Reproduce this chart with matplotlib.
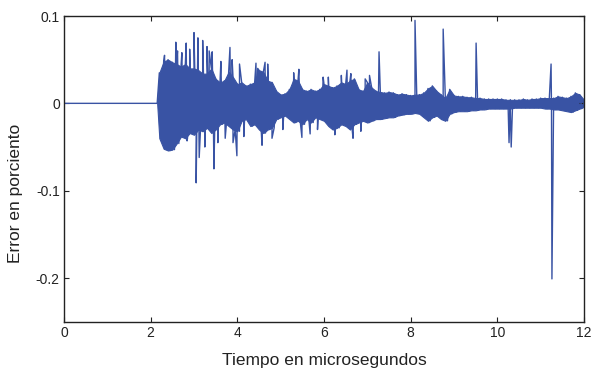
import numpy as np
import matplotlib
matplotlib.use('Agg')
import matplotlib.pyplot as plt

plt.rcParams['font.family'] = ['Liberation Sans', 'DejaVu Sans']
plt.rcParams['axes.unicode_minus'] = False

# ---------------- data ----------------
x_ticks = [0, 2, 4, 6, 8, 10, 12]
y_ticks = [-0.2, -0.1, 0, 0.1]
y_tick_labels = ['-0.2', '-0.1', '0', '0.1']
x_label = 'Tiempo en microsegundos'
y_label = 'Error en porciento'

# flat part before the signal begins
flat_t = [0.0, 2.15]
flat_v = [0.0, 0.0]

# envelope of the dense oscillation, sampled every 0.1 us from 2.2 to 11.9
env_t = np.round(np.arange(2.2, 11.95, 0.1), 2)
env_upper = [
    0.035, 0.048, 0.050, 0.047, 0.045, 0.042, 0.045, 0.040, 0.040, 0.038,   # 2.2-3.1
    0.034, 0.034, 0.040, 0.028, 0.024, 0.026, 0.036, 0.030, 0.022, 0.024,   # 3.2-4.1
    0.020, 0.022, 0.024, 0.038, 0.036, 0.026, 0.024, 0.014, 0.010, 0.011,   # 4.2-5.1
    0.016, 0.028, 0.026, 0.016, 0.014, 0.016, 0.014, 0.016, 0.022, 0.020,   # 5.2-6.1
    0.018, 0.020, 0.024, 0.022, 0.026, 0.028, 0.016, 0.014, 0.024, 0.018,   # 6.2-7.1
    0.014, 0.013, 0.012, 0.013, 0.012, 0.010, 0.011, 0.010, 0.009, 0.010,   # 7.2-8.1
    0.010, 0.012, 0.017, 0.020, 0.014, 0.010, 0.006, 0.016, 0.009, 0.008,   # 8.2-9.1
    0.008, 0.007, 0.007, 0.006, 0.006, 0.005, 0.005, 0.005, 0.005, 0.005,   # 9.2-10.1
    0.004, 0.004, 0.004, 0.004, 0.005, 0.004, 0.005, 0.005, 0.006, 0.006,   # 10.2-11.1
    0.006, 0.006, 0.008, 0.007, 0.006, 0.008, 0.012, 0.010,                 # 11.2-11.9
]
env_lower = [
    -0.040, -0.052, -0.054, -0.053, -0.046, -0.038, -0.040, -0.034, -0.036, -0.030,
    -0.032, -0.028, -0.034, -0.030, -0.024, -0.022, -0.026, -0.030, -0.032, -0.020,
    -0.018, -0.026, -0.024, -0.030, -0.034, -0.030, -0.028, -0.018, -0.016, -0.014,
    -0.018, -0.022, -0.020, -0.024, -0.018, -0.022, -0.016, -0.018, -0.020, -0.026,
    -0.030, -0.028, -0.024, -0.026, -0.030, -0.024, -0.022, -0.020, -0.022, -0.020,
    -0.018, -0.018, -0.017, -0.016, -0.016, -0.014, -0.013, -0.012, -0.012, -0.011,
    -0.012, -0.016, -0.020, -0.016, -0.014, -0.018, -0.020, -0.012, -0.010, -0.009,
    -0.009, -0.009, -0.008, -0.008, -0.007, -0.007, -0.006, -0.006, -0.006, -0.006,
    -0.006, -0.006, -0.005, -0.005, -0.005, -0.005, -0.005, -0.005, -0.005, -0.006,
    -0.006, -0.007, -0.007, -0.008, -0.009, -0.010, -0.008, -0.006,
]

# isolated spikes (time, value)
spike_t = [2.32, 2.58, 2.62, 2.72, 2.82, 2.84, 2.90, 3.00, 3.05, 3.09,
           3.12, 3.20, 3.25, 3.30, 3.35, 3.42, 3.46, 3.55, 3.62, 3.72,
           3.83, 3.88, 3.90, 3.99, 4.05, 4.15, 4.43, 4.47, 4.57, 4.64,
           4.70, 4.80, 5.05, 5.30, 5.42, 5.49, 5.68, 5.85, 5.98, 6.10,
           6.25, 6.40, 6.53, 6.62, 6.67, 6.85, 6.95, 7.05, 7.27, 8.10,
           8.75, 9.51, 10.27, 10.30, 10.32, 10.35, 11.24, 11.26]
spike_v = [0.055, 0.070, 0.060, 0.058, 0.069, -0.043, 0.062, 0.081, -0.091, 0.075,
           -0.062, 0.072, -0.050, 0.065, 0.060, 0.059, -0.075, -0.045, 0.048, -0.040,
           0.064, 0.050, -0.045, -0.060, 0.045, -0.038, 0.046, 0.040, -0.048, 0.047,
           0.045, -0.040, -0.030, 0.035, 0.039, -0.039, -0.035, -0.030, 0.030, 0.030,
           -0.036, 0.032, 0.038, 0.034, -0.040, -0.032, 0.028, 0.032, 0.059, 0.095,
           0.085, 0.069, -0.045, -0.005, -0.050, -0.004, 0.045, -0.201]

end_t = [12.0]
end_v = [0.0]

LINE_COLOR = '#3953a4'

# ---------------- build the line from the read values ----------------
zig_t = np.concatenate([env_t, env_t + 0.05])
zig_v = np.concatenate([env_upper, env_lower])
all_t = np.concatenate([flat_t, zig_t, spike_t, end_t])
all_v = np.concatenate([flat_v, zig_v, spike_v, end_v])
order = np.argsort(all_t, kind='stable')
all_t = all_t[order]
all_v = all_v[order]

# ---------------- figure ----------------
fig = plt.figure(figsize=(5.93, 3.70), dpi=100)
ax = fig.add_axes([64/593, 1 - 321.7/370, 520/593, 305.7/370])

# dense band between the envelopes
band_t = np.concatenate([[2.15], env_t, [12.0]])
band_up = np.concatenate([[0.0], env_upper, [0.004]])
band_lo = np.concatenate([[0.0], env_lower, [-0.004]])
ax.fill_between(band_t, band_lo, band_up, color=LINE_COLOR, linewidth=0.8,
                edgecolor=LINE_COLOR)
ax.plot(all_t, all_v, color=LINE_COLOR, linewidth=1.0)

ax.set_xlim(0, 12)
ax.set_ylim(-0.25, 0.1)
ax.set_xticks(x_ticks)
ax.set_xticklabels([str(v) for v in x_ticks])
ax.set_yticks(y_ticks)
ax.set_yticklabels(y_tick_labels)

ax.tick_params(direction='in', length=3.6, width=0.8, top=True, right=True,
               labelsize=10, colors='#222222', pad=3)
for s in ax.spines.values():
    s.set_linewidth(1.0)
    s.set_color('#222222')

ax.set_xlabel(x_label, fontsize=12.5, color='#222222')
ax.xaxis.set_label_coords(0.5, -0.102)
ax.set_ylabel(y_label, fontsize=12.5, color='#222222')
ax.yaxis.set_label_coords(-0.078, 0.42)

fig.savefig('out.png', dpi=100)
